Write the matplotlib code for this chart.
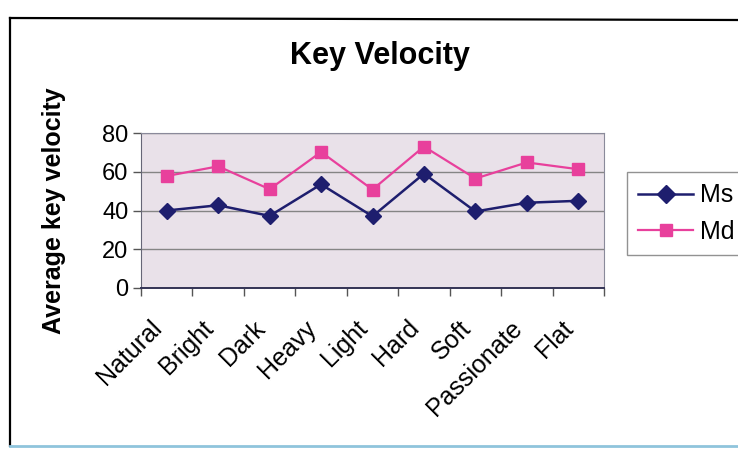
import matplotlib
matplotlib.use("Agg")
import matplotlib.pyplot as plt
import matplotlib.transforms as mtransforms
from matplotlib.lines import Line2D
import numpy as np

# Data
categories = ["Natural", "Bright", "Dark", "Heavy", "Light", "Hard", "Soft", "Passionate", "Flat"]
ms_values = [40, 42.7, 37.2, 53.5, 37, 59, 39.5, 44, 45]
md_values = [57.8, 62.8, 51, 70.2, 50.8, 73, 56.5, 64.8, 61.3]
y_ticks = [0, 20, 40, 60, 80]

plt.rcParams['font.family'] = ['Liberation Sans', 'DejaVu Sans']

fig = plt.figure(figsize=(7.38, 4.49), dpi=100)
fig.patch.set_facecolor("white")

# chart border (scanned Excel frame)
fig.add_artist(Line2D([10/738, 1.0], [1 - 18/449, 1 - 20/449], color="black", lw=1.6))
fig.add_artist(Line2D([10/738, 10/738], [1 - 18/449, 1 - 446/449], color="black", lw=1.6))
fig.add_artist(Line2D([10/738, 1.0], [1 - 446/449, 1 - 446/449], color="#8fc4dc", lw=2.0))

ax = fig.add_axes([141/738, 1 - 288/449, 463/738, 155/449])
ax.set_facecolor("#e9e1e9")

x = np.arange(len(categories))
ax.plot(x, ms_values, color="#1e1e6e", lw=1.8, marker="D", markersize=8, label="Ms")
ax.plot(x, md_values, color="#e8409c", lw=1.6, marker="s", markersize=8, label="Md")

ax.set_xlim(-0.5, len(categories) - 0.5)
ax.set_ylim(0, 80)
ax.set_yticks(y_ticks)
ax.yaxis.grid(True, color="#858585", lw=1.0)
ax.set_axisbelow(True)

# category ticks at the boundaries, labels at the centres
ax.set_xticks(x)
ax.set_xticklabels(categories, rotation=45, ha="right", va="top", rotation_mode="anchor", fontsize=18)
ax.set_xticks(np.arange(-0.5, len(categories)), minor=True)
ax.tick_params(axis="x", which="major", length=0, pad=20)
ax.tick_params(axis="x", which="minor", length=6, color="#555555", width=1)
ax.tick_params(axis="y", length=6, color="#555555", width=1, labelsize=17, pad=3)
shift = mtransforms.ScaledTranslation(-17/100, 0, fig.dpi_scale_trans)
for lab in ax.get_xticklabels():
    lab.set_transform(lab.get_transform() + shift)

for side in ["top", "right"]:
    ax.spines[side].set_color("#8a8a9a")
ax.spines["left"].set_color("#666677")
ax.spines["bottom"].set_color("#333355")
ax.spines["bottom"].set_linewidth(1.4)

ax.set_ylabel("Average key velocity", fontsize=18, fontweight="bold", labelpad=26)
fig.text(380/738, 1 - 56/449, "Key Velocity", ha="center", va="center", fontsize=22, fontweight="bold")

leg = ax.legend(loc="upper left", bbox_to_anchor=(627/738, 1 - 172/449), bbox_transform=fig.transFigure,
                fontsize=18, frameon=True, fancybox=False, edgecolor="#777777",
                handlelength=2.2, handletextpad=0.25, borderpad=0.45, borderaxespad=0,
                labelspacing=0.5, markerscale=1.1)
leg.get_frame().set_linewidth(1.0)

fig.savefig("out.png", dpi=100)
